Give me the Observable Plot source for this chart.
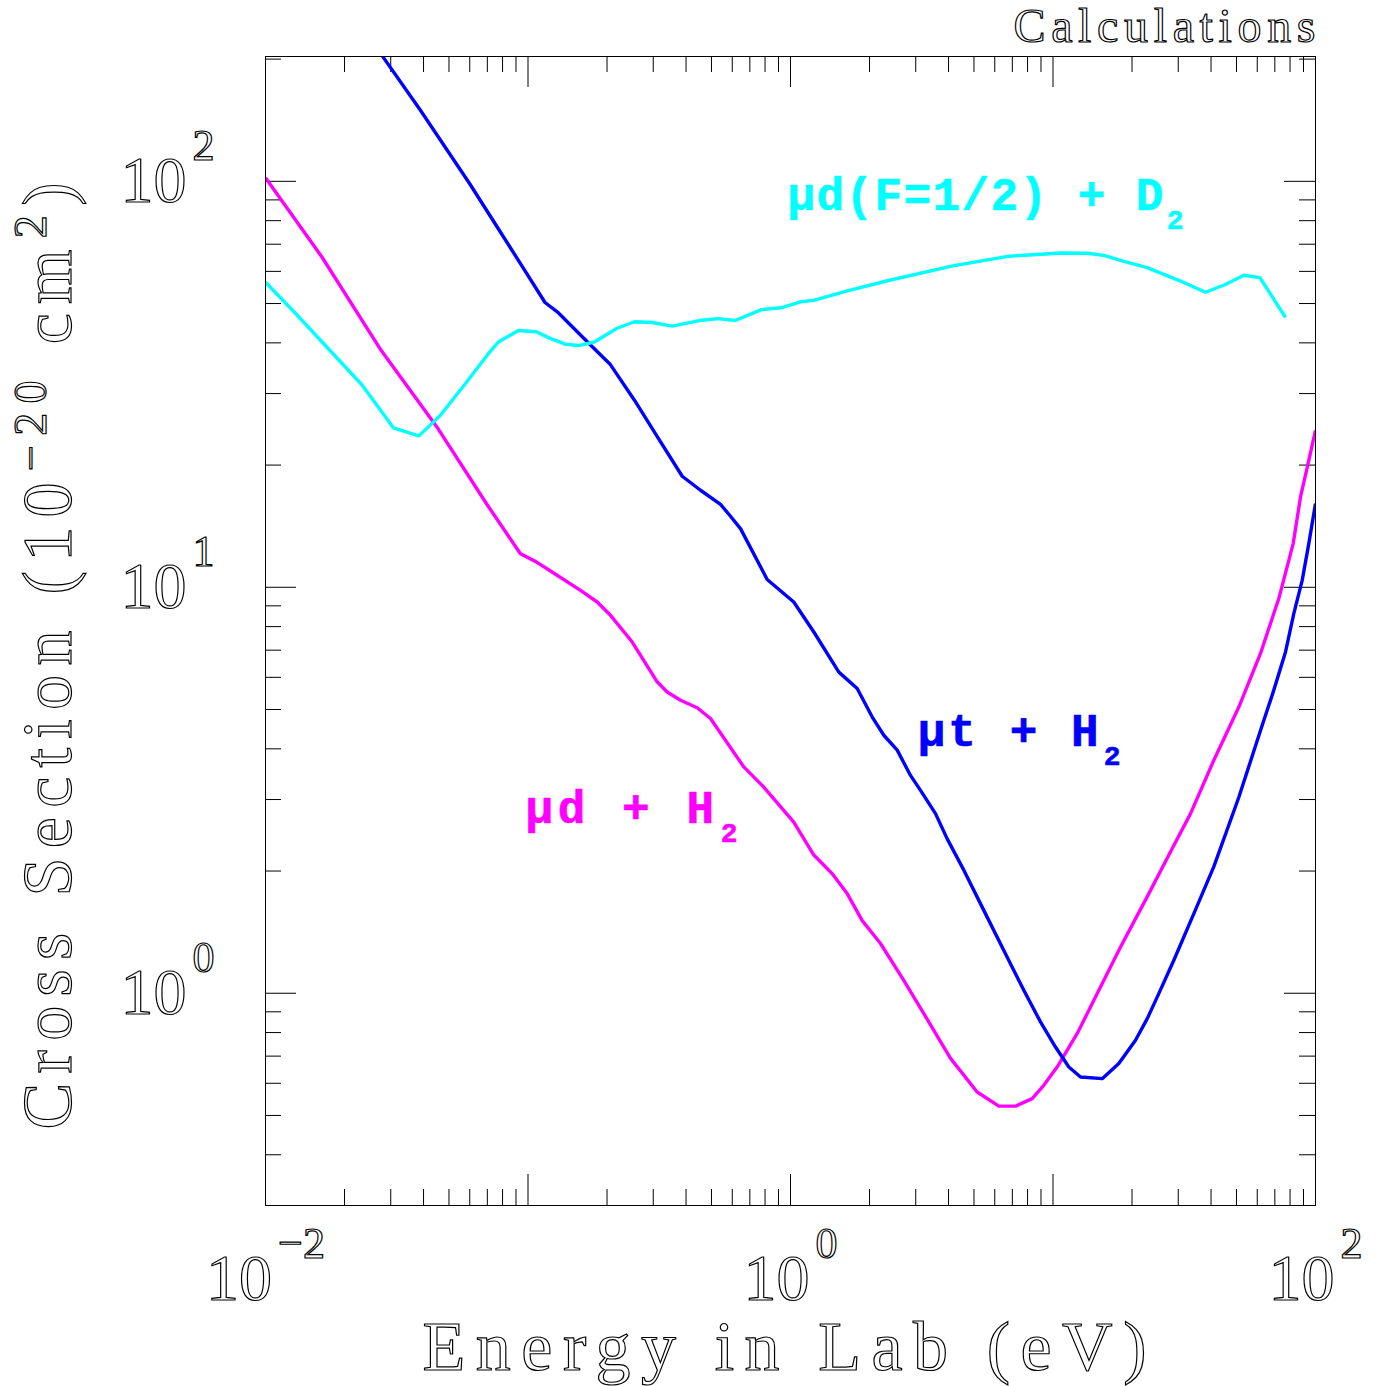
<!DOCTYPE html>
<html>
<head>
<meta charset="utf-8">
<script src="https://cdn.jsdelivr.net/npm/d3@7"></script>
<script src="https://cdn.jsdelivr.net/npm/@observablehq/plot@0.6"></script>
<style>
  html, body { margin: 0; padding: 0; background: #ffffff; }
  #chart svg { display: block; }
</style>
</head>
<body>
<div id="chart"></div>
<script>
// ---------------- data ----------------
// mu-d + H2
const mdH2_E = [0.01, 0.0164, 0.0273, 0.0454, 0.0699, 0.0936, 0.1075, 0.1218, 0.1585, 0.1835, 0.2062, 0.2495, 0.3105, 0.339, 0.381, 0.441, 0.4957, 0.6638, 0.791, 1.029, 1.227, 1.442, 1.644, 1.876, 2.202, 2.701, 3.22, 4.07, 5.14, 6.22, 7.20, 8.33, 9.22, 10.37, 12.37, 14.74, 18.08, 22.86, 28.04, 33.41, 40.99, 51.04, 61.73, 72.48, 82.22, 87.69, 94.3, 100];
const mdH2_sigma = [102, 65.1, 38.7, 24.6, 15.97, 12.09, 11.55, 10.97, 9.83, 9.20, 8.53, 7.33, 5.85, 5.52, 5.27, 5.05, 4.75, 3.61, 3.22, 2.64, 2.19, 1.97, 1.76, 1.51, 1.326, 1.076, 0.891, 0.691, 0.571, 0.527, 0.527, 0.550, 0.593, 0.658, 0.796, 0.998, 1.30, 1.73, 2.23, 2.77, 3.75, 5.07, 6.87, 9.38, 12.81, 16.69, 20.55, 24.36];
// mu-t + H2
const mtH2_E = [0.0256, 0.0278, 0.0388, 0.0598, 0.0786, 0.0936, 0.1161, 0.1307, 0.1719, 0.2051, 0.2544, 0.3095, 0.3868, 0.4541, 0.5413, 0.5906, 0.645, 0.815, 1.029, 1.227, 1.528, 1.795, 2.048, 2.267, 2.55, 2.865, 3.128, 3.568, 3.954, 4.574, 5.45, 6.49, 7.74, 8.96, 10.22, 11.49, 12.73, 15.40, 17.81, 20.62, 22.86, 25.29, 28.86, 34.4, 40.99, 51.04, 62.66, 69.37, 76.87, 82.67, 88.98, 94.3, 100];
const mtH2_sigma = [220, 204, 150.1, 98.9, 74.9, 62.7, 50.3, 47.4, 39.7, 35.5, 28.9, 23.6, 18.77, 17.34, 16.01, 14.96, 13.95, 10.45, 9.20, 7.76, 6.18, 5.63, 4.79, 4.32, 3.97, 3.44, 3.16, 2.77, 2.40, 2.01, 1.60, 1.276, 1.017, 0.850, 0.737, 0.658, 0.622, 0.616, 0.671, 0.766, 0.866, 0.998, 1.206, 1.571, 2.05, 3.04, 4.57, 5.58, 6.93, 8.61, 10.40, 12.81, 16.08];
// mu-d(F=1/2) + D2
const mdD2_E = [0.01, 0.01297, 0.02333, 0.0307, 0.0384, 0.0463, 0.0574, 0.0699, 0.0771, 0.0919, 0.1075, 0.1209, 0.1386, 0.1559, 0.1789, 0.2176, 0.2544, 0.2976, 0.3549, 0.449, 0.529, 0.616, 0.775, 0.919, 1.092, 1.224, 1.661, 2.342, 4.149, 6.81, 10.76, 13.53, 15.62, 18.61, 22.85, 30.6, 38.1, 45.4, 53.3, 61.4, 76.9];
const mdD2_sigma = [56.4, 47.4, 31.5, 24.7, 23.6, 26.5, 31.6, 37.3, 40.2, 42.9, 42.6, 41.1, 39.7, 39.4, 40.2, 43.4, 45.1, 44.9, 44.0, 45.4, 45.9, 45.4, 48.3, 48.8, 50.5, 50.9, 53.8, 56.9, 61.9, 65.4, 66.6, 66.5, 65.7, 63.5, 61.3, 56.8, 53.3, 55.7, 58.7, 57.9, 46.2];

// curve labels (text and anchor point in data units)
const curveNames = ["μd + H_{2}", "μt + H_{2}", "μd(F=1/2) + D_{2}"];
const curveColors = ["#ff00ff", "#0000ff", "#00ffff"];
const labelE = [0.0978, 3.05, 0.974];
const labelSigma = [2.62, 4.06, 84.8];

// axes
const xDomain = [0.01, 100];
const yDomain = [0.3, 203];
const xMajorTicks = [0.01, 0.1, 1, 10, 100];
const xMinorTicks = [0.02, 0.03, 0.04, 0.05, 0.06, 0.07, 0.08, 0.09,
                     0.2, 0.3, 0.4, 0.5, 0.6, 0.7, 0.8, 0.9,
                     2, 3, 4, 5, 6, 7, 8, 9,
                     20, 30, 40, 50, 60, 70, 80, 90];
const yMajorTicks = [1, 10, 100];
const yMinorTicks = [0.3, 0.4, 0.5, 0.6, 0.7, 0.8, 0.9,
                     2, 3, 4, 5, 6, 7, 8, 9,
                     20, 30, 40, 50, 60, 70, 80, 90, 200];
const xLabelTicks = [0.01, 1, 100];
const xTickLabels = ["10^{−2}", "10^{0}", "10^{2}"];
const yLabelTicks = [1, 10, 100];
const yTickLabels = ["10^{0}", "10^{1}", "10^{2}"];
const xTitle = "Energy in Lab (eV)";
const yTitle = "Cross Section (10^{−20} cm^{2})";
const cornerTitle = "Calculations";

// ---------------- layout ----------------
const W = 1382, H = 1386;
const M = {top: 56, right: 67, bottom: 181, left: 265};
const innerW = W - M.left - M.right;
const innerH = H - M.top - M.bottom;
const majorLen = 31, minorLen = 16;

const series = [
  {E: mdH2_E, S: mdH2_sigma, color: curveColors[0]},
  {E: mtH2_E, S: mtH2_sigma, color: curveColors[1]},
  {E: mdD2_E, S: mdD2_sigma, color: curveColors[2]}
];
const lineMarks = series.map(s =>
  Plot.line(s.E.map((e, i) => ({E: e, S: s.S[i]})), {
    x: "E", y: "S", stroke: s.color, strokeWidth: 3.4, clip: true,
    strokeLinejoin: "round", strokeLinecap: "butt"
  })
);
const curveLabels = curveNames.map((n, i) => ({name: n, E: labelE[i], S: labelSigma[i], color: curveColors[i]}));

const tk = {stroke: "#000", strokeWidth: 1};
const expOf = d => Math.round(Math.log10(d));

const chart = Plot.plot({
  width: W, height: H,
  marginTop: M.top, marginRight: M.right, marginBottom: M.bottom, marginLeft: M.left,
  x: {type: "log", domain: xDomain},
  y: {type: "log", domain: yDomain},
  style: {background: "#fff"},
  marks: [
    // inward ticks on all four sides
    Plot.tickX(xMajorTicks, {x: d => d, insetTop: innerH - majorLen, ...tk}),
    Plot.tickX(xMajorTicks, {x: d => d, insetBottom: innerH - majorLen, ...tk}),
    Plot.tickX(xMinorTicks, {x: d => d, insetTop: innerH - minorLen, ...tk}),
    Plot.tickX(xMinorTicks, {x: d => d, insetBottom: innerH - minorLen, ...tk}),
    Plot.tickY(yMajorTicks, {y: d => d, insetRight: innerW - majorLen, ...tk}),
    Plot.tickY(yMajorTicks, {y: d => d, insetLeft: innerW - majorLen, ...tk}),
    Plot.tickY(yMinorTicks, {y: d => d, insetRight: innerW - minorLen, ...tk}),
    Plot.tickY(yMinorTicks, {y: d => d, insetLeft: innerW - minorLen, ...tk}),
    ...lineMarks,
    Plot.frame({stroke: "#000", strokeWidth: 1}),
    Plot.axisX(xLabelTicks, {
      tickSize: 0, tickPadding: 94, lineAnchor: "bottom", label: null,
      tickFormat: d => xTickLabels[xLabelTicks.findIndex(v => expOf(v) === expOf(d))]
    }),
    Plot.axisY(yLabelTicks, {
      tickSize: 0, tickPadding: 51, label: null,
      tickFormat: d => yTickLabels[yLabelTicks.findIndex(v => expOf(v) === expOf(d))]
    }),
    // text marks (order matters for styling below)
    Plot.text(curveLabels, {
      x: "E", y: "S", text: "name", fill: "color",
      textAnchor: "start", lineAnchor: "bottom"
    }),
    Plot.text([cornerTitle], {
      frameAnchor: "top-right", textAnchor: "end", lineAnchor: "bottom", dy: -15
    }),
    Plot.text([xTitle], {
      frameAnchor: "bottom", textAnchor: "middle", lineAnchor: "bottom", dy: 164, dx: -6
    }),
    Plot.text([yTitle], {
      frameAnchor: "left", textAnchor: "middle", lineAnchor: "bottom", rotate: -90,
      dx: -195, dy: 25
    })
  ]
});
document.getElementById("chart").appendChild(chart);

// ---------------- text styling (super/subscripts, outline font) ----------------
const SVGNS = "http://www.w3.org/2000/svg";
function richText(node, o) {
  const s = node.textContent;
  const parts = s.split(/(\^\{[^}]*\}|_\{[^}]*\})/).filter(p => p.length);
  node.textContent = "";
  let shift = 0;
  for (const p of parts) {
    const t = document.createElementNS(SVGNS, "tspan");
    let target = 0, txt = p, small = false;
    if (p.startsWith("^{")) { target = -o.sup; txt = p.slice(2, -1); small = true; }
    else if (p.startsWith("_{")) { target = o.sub; txt = p.slice(2, -1); small = true; }
    t.setAttribute("dy", target - shift);
    if (small) { t.setAttribute("font-size", o.small); t.setAttribute("dx", o.gap || 0); }
    shift = target;
    t.textContent = txt;
    node.appendChild(t);
  }
}
const root = d3.select(chart);
function outline(sel, size) {
  sel.style("font-family", "'Liberation Serif','DejaVu Serif',serif")
     .style("font-size", size + "px")
     .style("font-weight", "normal")
     .style("fill", "#ffffff")
     .style("stroke", "#000000")
     .style("stroke-width", "1.2px")
     .style("paint-order", "fill");
}
const xt = root.selectAll('g[aria-label="x-axis tick label"] text');
outline(xt, 66);
xt.each(function() { richText(this, {sup: 42, small: 44, gap: 6}); });
const yt = root.selectAll('g[aria-label="y-axis tick label"] text');
outline(yt, 66);
yt.each(function() { richText(this, {sup: 42, small: 44, gap: 6}); });

const textGroups = root.selectAll('g[aria-label="text"]').nodes();
const [gCurve, gCorner, gXTitle, gYTitle] = textGroups;

const ct = d3.select(gCorner).selectAll("text");
outline(ct, 48);
ct.attr("textLength", 302).attr("lengthAdjust", "spacing");

const xtt = d3.select(gXTitle).selectAll("text");
outline(xtt, 70);
xtt.attr("textLength", 724).attr("lengthAdjust", "spacing");

const ytt = d3.select(gYTitle).selectAll("text");
outline(ytt, 70);
ytt.each(function() { richText(this, {sup: 25, small: 46, gap: 2}); });
ytt.attr("textLength", 947).attr("lengthAdjust", "spacing");

const labelLengths = [212, 203, 396];
d3.select(gCurve).selectAll("text").each(function(d, i) {
  const el = d3.select(this);
  el.style("font-family", "'Liberation Mono','DejaVu Sans Mono',monospace")
    .style("font-size", "46px")
    .style("font-weight", "bold")
    .style("stroke", "currentColor")
    .style("stroke-width", "0.6px");
  richText(this, {sub: 19, small: 28, gap: 2});
  el.attr("textLength", labelLengths[i]).attr("lengthAdjust", "spacing");
});
d3.select(gCurve).selectAll("text").each(function(d, i) {
  d3.select(this).style("stroke", curveColors[i]);
});
</script>
</body>
</html>
